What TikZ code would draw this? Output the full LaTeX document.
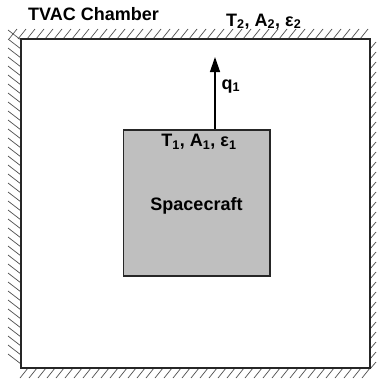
\documentclass[tikz,border=0pt]{standalone}
\usepackage{fontspec}
\setmainfont{Liberation Sans}
\usetikzlibrary{arrows.meta}
\begin{document}
\begin{tikzpicture}[x=1pt,y=-1pt,
  lbl/.style={inner sep=0pt,font=\fontsize{18}{21}\selectfont\bfseries},
  hatch/.style={draw=black!70,line width=0.7pt},
  wall/.style={draw=black!85,line width=1.6pt},
  craft/.style={draw=black!85,line width=1.6pt,fill=black!25}]
\useasboundingbox (0,0) rectangle (376,380);
% hatching
\foreach \x in {9,18,...,366} \draw[hatch] (\x,39) -- (\x+8,29);
\foreach \y in {30,39,...,358} \draw[hatch] (8,\y) -- (21,\y+10);
\foreach \x in {20,29,...,362} \draw[hatch] (\x,378) -- (\x+8,368);
\foreach \y in {42,52,...,362} \draw[hatch] (370,\y+7) -- (376,\y);
% chamber
\node[wall,minimum width=349pt,minimum height=329pt,inner sep=0pt] (chamber) at (195.5,203.5) {};
% spacecraft
\node[craft,minimum width=146.5pt,minimum height=146pt,inner sep=0pt] (sc) at (196.75,203) {};
\node[lbl,anchor=base] (t1) at (199,146.5) {T\textsubscript{1}, A\textsubscript{1}, ε\textsubscript{1}};
\node[lbl,anchor=base] (scl) at (196.5,210) {Spacecraft};
% heat flux arrow
\coordinate (qtip) at (215,57);
\draw[line width=1.3pt,-{Triangle[length=15pt,width=10pt]}] (sc.north -| qtip) -- (qtip);
\node[lbl,anchor=base west] (q1) at (221.5,89) {q\textsubscript{1}};
% labels
\node[lbl,anchor=base west] (tvac) at (28,20.5) {TVAC Chamber};
\node[lbl,anchor=base west] (t2) at (226,26) {T\textsubscript{2}, A\textsubscript{2}, ε\textsubscript{2}};
\end{tikzpicture}
\end{document}
